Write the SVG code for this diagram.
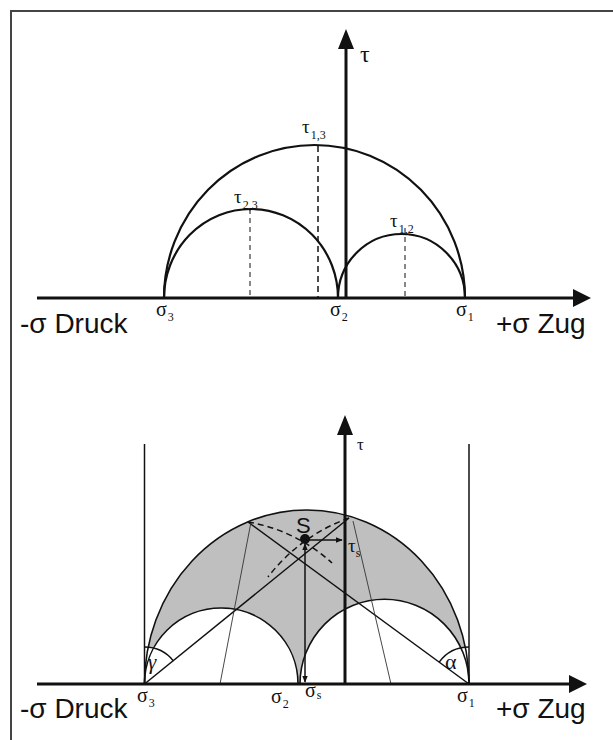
<svg xmlns="http://www.w3.org/2000/svg" width="613" height="740" viewBox="0 0 613 740">
<defs>
<style>
.ax{stroke:#111;stroke-width:3;fill:none}
.c1{stroke:#111;stroke-width:2.2;fill:none}
.c2{stroke:#111;stroke-width:1.6;fill:none}
.ln{stroke:#111;stroke-width:1.5;fill:none}
.thin{stroke:#333;stroke-width:0.9;fill:none}
.dsh{stroke:#111;stroke-width:1.5;fill:none;stroke-dasharray:6 4}
.dsh2{stroke:#111;stroke-width:1;fill:none;stroke-dasharray:5 4}
.sf{font-family:"Liberation Serif","Times New Roman",serif;fill:#111}
.ss{font-family:"Liberation Sans",Arial,sans-serif;fill:#111;font-size:28px}
.head{fill:#111}
</style>
<marker id="ah" viewBox="0 0 10 10" refX="9" refY="5" markerWidth="7" markerHeight="7" orient="auto-start-reverse" markerUnits="userSpaceOnUse">
<path d="M0,1 L10,5 L0,9 Z" fill="#111"/>
</marker>
</defs>
<rect width="613" height="740" fill="#fff"/>
<path d="M11,740 V11 H613" stroke="#444" stroke-width="2" fill="none"/>

<g id="top-diagram">
<g id="top-axes">
<line class="ax" x1="37" y1="298" x2="576" y2="298"/>
<path class="head" d="M573,289 L591,298 L573,307 Z"/>
<line class="ax" x1="346" y1="298" x2="346" y2="46"/>
<path class="head" d="M338,49 L346,29 L354,49 Z"/>
</g>
<g id="top-circles">
<path class="c1" d="M164,298 A150.5,153 0 0 1 465,298"/>
<path class="c1" d="M164,298 A87,89 0 0 1 338,298"/>
<path class="c1" d="M338,298 A63.5,64 0 0 1 465,298"/>
<line class="dsh" x1="318" y1="146" x2="318" y2="298"/>
<line class="dsh2" x1="250" y1="209" x2="250" y2="298"/>
<line class="dsh2" x1="405" y1="228" x2="405" y2="298"/>
</g>
<g id="top-labels">
<text class="sf" x="360" y="62" font-size="24">τ</text>
<text class="sf" x="302" y="133" font-size="19">τ<tspan font-size="12" dx="1" dy="6">1,3</tspan></text>
<text class="sf" x="234" y="203" font-size="19">τ<tspan font-size="12" dx="1" dy="6">2,3</tspan></text>
<text class="sf" x="390" y="227" font-size="19">τ<tspan font-size="12" dx="1" dy="6">1,2</tspan></text>
<text class="sf" x="156" y="316" font-size="20">σ<tspan font-size="12" dx="1" dy="5">3</tspan></text>
<text class="sf" x="330" y="316" font-size="20">σ<tspan font-size="12" dx="1" dy="5">2</tspan></text>
<text class="sf" x="456" y="316" font-size="20">σ<tspan font-size="12" dx="1" dy="5">1</tspan></text>
<text class="ss" x="20" y="333">-σ Druck</text>
<text class="ss" x="496" y="333">+σ Zug</text>
</g>
</g>

<g id="bottom-diagram">
<g id="shaded-region">
<path d="M144.5,684 A162.25,174 0 0 1 469,684 A84.5,84.7 0 0 0 300,684 L298,684 A76.75,76 0 0 0 144.5,684 Z" fill="#bfbfbf" stroke="none"/>
</g>
<g id="angle-gamma">
<path d="M144.5,684 L144.5,647 A37,37 0 0 1 173.6,661.1 Z" fill="#fff" stroke="none"/>
<path class="ln" d="M144.5,647 A37,37 0 0 1 173.6,661.1" stroke-width="1.2"/>
<text class="sf" x="148" y="669" font-size="21" font-style="italic">γ</text>
</g>
<g id="angle-alpha">
<path d="M469,684 L469,647 A37,37 0 0 0 439.2,662.1 Z" fill="#fff" stroke="none"/>
<path class="ln" d="M469,647 A37,37 0 0 0 439.2,662.1" stroke-width="1.2"/>
<text class="sf" x="445" y="669" font-size="22">α</text>
</g>
<g id="bottom-circles">
<path class="c2" d="M144.5,684 A162.25,174 0 0 1 469,684"/>
<path class="c2" d="M144.5,684 A76.75,76 0 0 1 298,684"/>
<path class="c2" d="M300,684 A84.5,84.7 0 0 1 469,684"/>
</g>
<g id="connectors">
<line class="ln" x1="144.5" y1="444" x2="144.5" y2="684"/>
<line class="ln" x1="469" y1="444" x2="469" y2="684"/>
<line class="ln" x1="144.5" y1="684" x2="349" y2="518"/>
<line class="ln" x1="469" y1="684" x2="248" y2="522"/>
<line class="thin" x1="251" y1="522" x2="220" y2="684"/>
<line class="thin" x1="353" y1="521" x2="391" y2="684"/>
<path class="dsh" d="M248,522 A164.3,164.3 0 0 1 332,563"/>
<path class="dsh" d="M349,518 A176.7,176.7 0 0 0 268,577"/>
<line class="ln" x1="305" y1="544" x2="305" y2="682" marker-start="url(#ah)" marker-end="url(#ah)"/>
<line class="ln" x1="308" y1="540" x2="342" y2="540" marker-end="url(#ah)"/>
</g>
<g id="bottom-axes">
<line class="ax" x1="37" y1="684" x2="572" y2="684"/>
<path class="head" d="M569,675 L587,684 L569,693 Z"/>
<line class="ax" x1="345" y1="684" x2="345" y2="432"/>
<path class="head" d="M337,435 L345,415 L353,435 Z"/>
</g>
<g id="point-S">
<circle cx="305" cy="539" r="5" fill="#111"/>
<text class="ss" x="296" y="533" style="font-size:22px">S</text>
</g>
<g id="bottom-labels">
<text class="sf" x="357" y="450" font-size="17">τ</text>
<text class="sf" x="348" y="552" font-size="19">τ<tspan font-size="12" dx="0" dy="5">s</tspan></text>
<text class="sf" x="137" y="702" font-size="20">σ<tspan font-size="12" dx="1" dy="5">3</tspan></text>
<text class="sf" x="271" y="703" font-size="20">σ<tspan font-size="12" dx="1" dy="5">2</tspan></text>
<text class="sf" x="305" y="697" font-size="20">σ<tspan font-size="12" dx="1" dy="2">s</tspan></text>
<text class="sf" x="457" y="702" font-size="20">σ<tspan font-size="12" dx="1" dy="5">1</tspan></text>
<text class="ss" x="20" y="718">-σ Druck</text>
<text class="ss" x="496" y="718">+σ Zug</text>
</g>
</g>
</svg>
